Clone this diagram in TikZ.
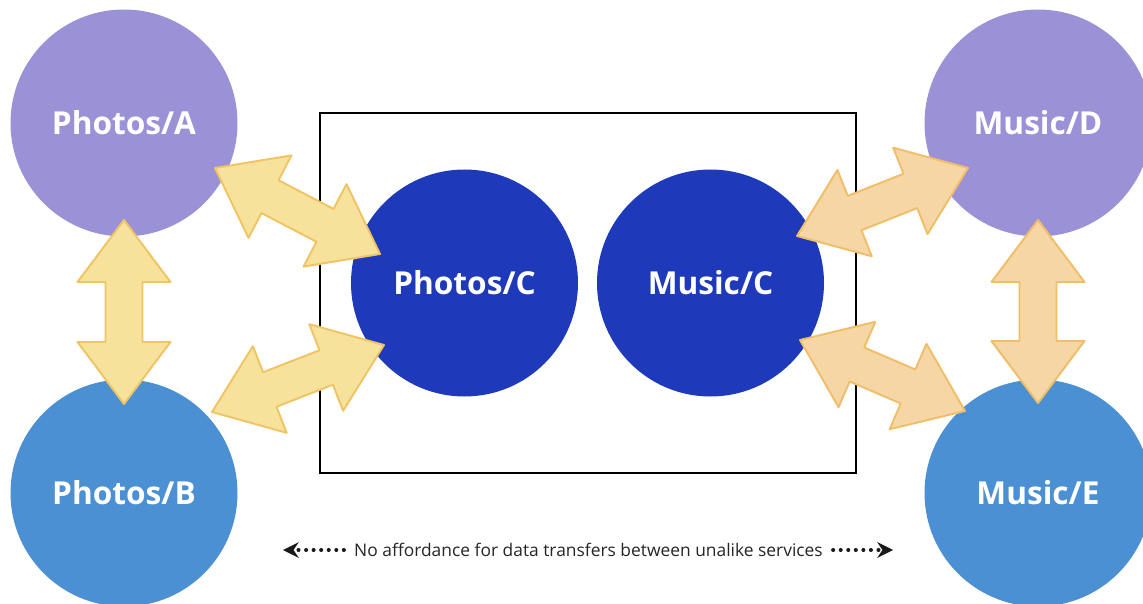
\documentclass[tikz,border=0pt]{standalone}
\usepackage{fontspec}
\setmainfont{Open Sans}
\usetikzlibrary{calc,arrows.meta}

\definecolor{lavender}{HTML}{9B91D7}
\definecolor{skyblue}{HTML}{4A90D2}
\definecolor{navy}{HTML}{1E3ABA}
\definecolor{butter}{HTML}{F7E29B}
\definecolor{butterline}{HTML}{F0C464}
\definecolor{peach}{HTML}{F7D6A5}
\definecolor{peachline}{HTML}{F0BE68}

\tikzset{
  ball/.style={circle,minimum size=4.54cm,inner sep=0pt,text=white,font=\fontsize{18}{20}\selectfont\bfseries},
  fatarrow/.style={line width=1.1pt,line join=round,to path={
    let \p1=($(\tikztotarget)-(\tikztostart)$), \n1={atan2(\y1,\x1)} in
    -- ($(\tikztostart)+(\n1:1.24cm)+(\n1+90:0.93cm)$)
    -- ($(\tikztostart)+(\n1:1.24cm)+(\n1+90:0.37cm)$)
    -- ($(\tikztotarget)+(\n1+180:1.24cm)+(\n1+90:0.37cm)$)
    -- ($(\tikztotarget)+(\n1+180:1.24cm)+(\n1+90:0.93cm)$)
    -- (\tikztotarget)
    -- ($(\tikztotarget)+(\n1+180:1.24cm)+(\n1-90:0.93cm)$)
    -- ($(\tikztotarget)+(\n1+180:1.24cm)+(\n1-90:0.37cm)$)
    -- ($(\tikztostart)+(\n1:1.24cm)+(\n1-90:0.37cm)$)
    -- ($(\tikztostart)+(\n1:1.24cm)+(\n1-90:0.93cm)$)
    -- cycle}},
  dotarrow/.style={line width=2.3pt,line cap=round,dash pattern=on 0pt off 4.3pt,-{Stealth[length=9pt,width=9pt,inset=3pt,line width=0pt]},color=black!90}
}

\begin{document}
\begin{tikzpicture}
 \clip (0, 0) rectangle (22.86, 12.06) ;
 \fill[white] (0, 0) rectangle (22.86, 12.06) ;

 \draw[line width=1.2pt] (6.4, 2.6) rectangle (17.12, 9.8) ;

 % photo services
 \node[ball,fill=lavender] (pa) at (2.48, 9.6) {Photos/A} ;
 \node[ball,fill=skyblue] (pb) at (2.48, 2.2) {Photos/B} ;
 \node[ball,fill=navy] (pc) at (9.29, 6.4) {Photos/C} ;

 % music services
 \node[ball,fill=navy] (mc) at (14.21, 6.4) {Music/C} ;
 \node[ball,fill=lavender] (md) at (20.76, 9.6) {Music/D} ;
 \node[ball,fill=skyblue] (me) at (20.76, 2.2) {Music/E} ;

 \coordinate (pa-s) at (2.48, 7.66) ;
 \coordinate (pb-n) at (2.48, 3.98) ;
 \coordinate (pa-se) at (4.30, 8.70) ;
 \coordinate (pc-nw) at (7.60, 6.98) ;
 \coordinate (pb-ne) at (4.24, 3.82) ;
 \coordinate (pc-sw) at (7.68, 5.16) ;
 \coordinate (mc-ne) at (15.94, 7.34) ;
 \coordinate (md-sw) at (19.36, 8.70) ;
 \coordinate (mc-se) at (16.00, 5.26) ;
 \coordinate (me-nw) at (19.30, 3.84) ;
 \coordinate (md-s) at (20.76, 7.66) ;
 \coordinate (me-n) at (20.76, 4.00) ;

 \draw[fatarrow,fill=butter,draw=butterline] (pa-s) to (pb-n) ;
 \draw[fatarrow,fill=butter,draw=butterline] (pa-se) to (pc-nw) ;
 \draw[fatarrow,fill=butter,draw=butterline] (pb-ne) to (pc-sw) ;
 \draw[fatarrow,fill=peach,draw=peachline] (mc-ne) to (md-sw) ;
 \draw[fatarrow,fill=peach,draw=peachline] (mc-se) to (me-nw) ;
 \draw[fatarrow,fill=peach,draw=peachline] (md-s) to (me-n) ;

 \node[text=black!85,font=\fontsize{9.9}{12}\selectfont,inner xsep=0.2cm] (note) at (11.77, 1.06)
   {No affordance for data transfers between unalike services} ;
 \coordinate (note-l) at (5.66, 1.06) ;
 \coordinate (note-r) at (17.86, 1.06) ;
 \draw[dotarrow] (note.west) -- (note-l) ;
 \draw[dotarrow] (note.east) -- (note-r) ;

\end{tikzpicture}
\end{document}
